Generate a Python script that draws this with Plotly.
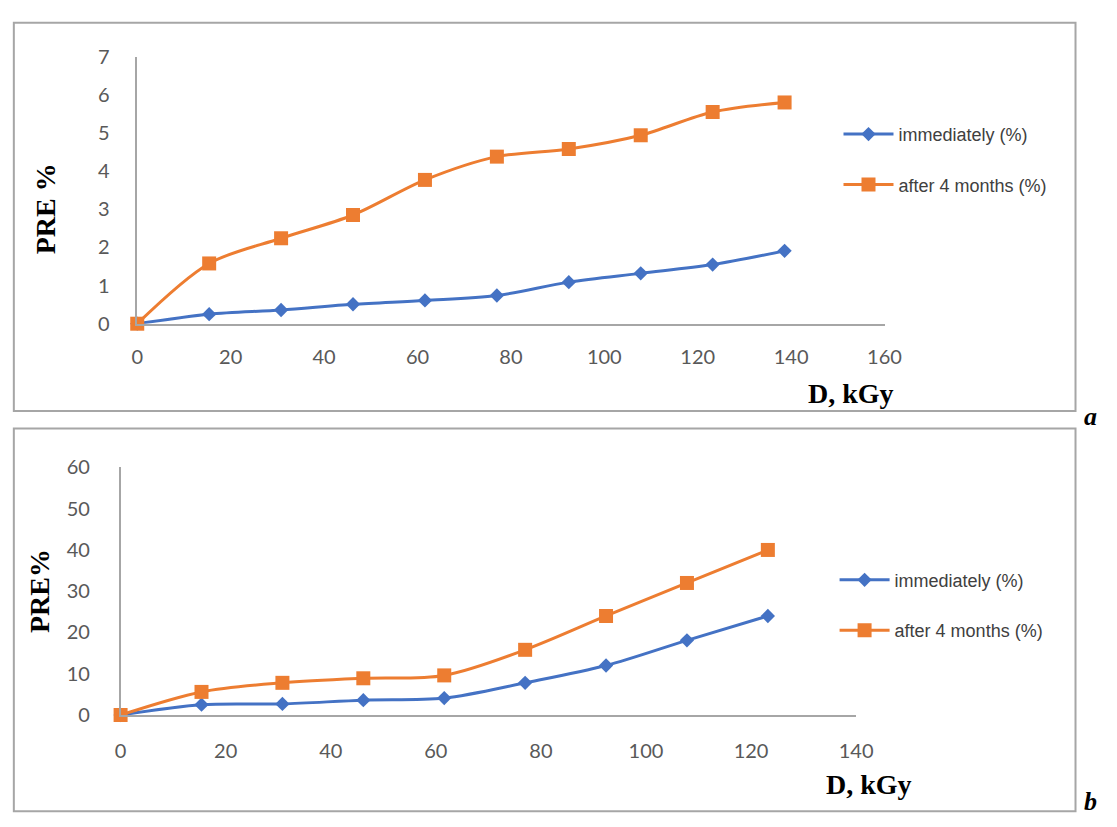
import plotly.graph_objects as go

W, H = 1117, 827


def px(x):
    return x / W


def py(y):
    return 1 - y / H


# ---------------- data ----------------
series_names = ["immediately (%)", "after 4 months (%)"]

dose_a = [0, 15.4, 30.8, 46.2, 61.6, 77.0, 92.4, 107.8, 123.2, 138.6]
immediately_a = [0, 0.25, 0.36, 0.51, 0.61, 0.74, 1.09, 1.32, 1.55, 1.91]
after4_a = [0, 1.58, 2.24, 2.85, 3.77, 4.38, 4.58, 4.94, 5.55, 5.80]

dose_b = [0, 15.4, 30.8, 46.2, 61.6, 77.0, 92.4, 107.8, 123.2]
immediately_b = [0, 2.5, 2.7, 3.6, 4.1, 7.8, 12.0, 18.1, 24.0]
after4_b = [0, 5.6, 7.8, 8.9, 9.6, 15.8, 24.0, 32.0, 40.0]

xticks_a = [0, 20, 40, 60, 80, 100, 120, 140, 160]
yticks_a = [0, 1, 2, 3, 4, 5, 6, 7]
xticks_b = [0, 20, 40, 60, 80, 100, 120, 140]
yticks_b = [0, 10, 20, 30, 40, 50, 60]

BLUE = "#4472C4"
ORANGE = "#ED7D31"
GRID = "#a6a6a6"
TICKC = "#595959"

fig = go.Figure()


def add_pair(x, yi, ya, xa, ya_ax, legend, g):
    fig.add_trace(go.Scatter(
        x=x, y=yi, name=series_names[0], mode="lines+markers",
        line=dict(color=BLUE, width=3, shape="spline", smoothing=0.9),
        marker=dict(symbol="diamond", size=11, color=BLUE),
        xaxis=xa, yaxis=ya_ax, legend=legend, legendgroup=g + "1",
        cliponaxis=False,
    ))
    fig.add_trace(go.Scatter(
        x=x, y=ya, name=series_names[1], mode="lines+markers",
        line=dict(color=ORANGE, width=3, shape="spline", smoothing=0.9),
        marker=dict(symbol="square", size=14, color=ORANGE),
        xaxis=xa, yaxis=ya_ax, legend=legend, legendgroup=g + "2",
        cliponaxis=False,
    ))


add_pair(dose_a, immediately_a, after4_a, "x", "y", "legend", "a")
add_pair(dose_b, immediately_b, after4_b, "x2", "y2", "legend2", "b")

tickfont = dict(family="Lato, Open Sans, sans-serif", size=20, color=TICKC)
axis_common = dict(showgrid=False, zeroline=False, showline=True,
                   linecolor=GRID, linewidth=1.5, ticks="", tickfont=tickfont,
                   fixedrange=True)

legfont = dict(family="Liberation Sans, Arial, sans-serif", size=18, color="#404040")

fig.update_layout(
    width=W, height=H,
    margin=dict(l=0, r=0, t=0, b=0),
    paper_bgcolor="white", plot_bgcolor="white",
    xaxis=dict(domain=[px(134), px(897)], range=[0, 160], tickvals=xticks_a,
               anchor="y", ticklabelstandoff=15, **axis_common),
    yaxis=dict(domain=[py(320), py(45)], range=[0, 7], tickvals=yticks_a,
               anchor="x", ticklabelstandoff=22, **axis_common),
    xaxis2=dict(domain=[px(117), px(868)], range=[0, 140], tickvals=xticks_b,
                anchor="y2", ticklabelstandoff=17, **axis_common),
    yaxis2=dict(domain=[py(723), py(468)], range=[0, 60], tickvals=yticks_b,
                anchor="x2", ticklabelstandoff=25, **axis_common),
    legend=dict(x=px(850), y=py(106), xanchor="left", yanchor="top",
                font=legfont, bgcolor="rgba(0,0,0,0)", itemwidth=50,
                tracegroupgap=24, traceorder="grouped"),
    legend2=dict(x=px(846), y=py(565), xanchor="left", yanchor="top",
                 font=legfont, bgcolor="rgba(0,0,0,0)", itemwidth=50,
                 tracegroupgap=24, traceorder="grouped"),
    showlegend=True,
)

# panel borders
for (x0, y0, x1, y1) in [(8, 10, 1092, 410), (8, 428, 1092, 822)]:
    fig.add_shape(type="rect", xref="paper", yref="paper",
                  x0=px(x0), x1=px(x1), y0=py(y1), y1=py(y0),
                  line=dict(color=GRID, width=2), fillcolor="rgba(0,0,0,0)",
                  layer="below")

titlefont = dict(family="Liberation Serif, Times New Roman, serif", size=28, color="black")
ann = [
    dict(text="<b>PRE %</b>", x=px(40), y=py(202), textangle=-90),
    dict(text="<b>PRE%</b>", x=px(34), y=py(595), textangle=-90),
    dict(text="<b>D, kGy</b>", x=px(863), y=py(392), textangle=0),
    dict(text="<b>D, kGy</b>", x=px(881), y=py(795), textangle=0),
]
for a in ann:
    fig.add_annotation(xref="paper", yref="paper", showarrow=False,
                       xanchor="center", yanchor="middle", font=titlefont, **a)

labfont = dict(family="Liberation Serif, Times New Roman, serif", size=26, color="black")
fig.add_annotation(text="<b><i>a</i></b>", xref="paper", yref="paper",
                   x=px(1116), y=py(416), xanchor="right", yanchor="middle",
                   showarrow=False, font=labfont)
fig.add_annotation(text="<b><i>b</i></b>", xref="paper", yref="paper",
                   x=px(1116), y=py(812), xanchor="right", yanchor="middle",
                   showarrow=False, font=labfont)

fig.write_html("out.html", config={"displayModeBar": False},
               post_script="document.body.style.margin='0';")
